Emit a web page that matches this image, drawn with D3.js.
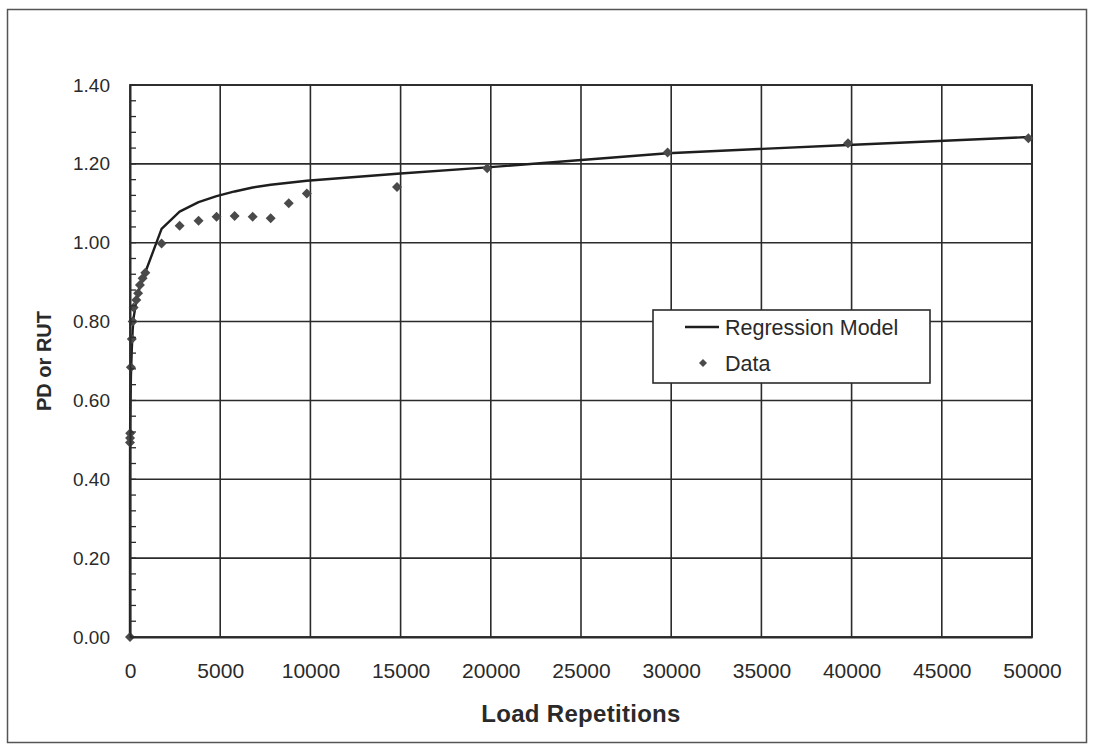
<!DOCTYPE html>
<html>
<head>
<meta charset="utf-8">
<script src="https://cdn.jsdelivr.net/npm/d3@7"></script>
<style>
  html, body { margin: 0; padding: 0; background: #fff; }
  svg { display: block; }
  text { font-family: "Liberation Sans", Arial, sans-serif; fill: #2a2a2a; }
</style>
</head>
<body>
<svg id="chart" width="1095" height="745"></svg>
<script>
// Measured points (load repetitions vs PD or RUT)
var dataX = [0, 1, 5, 10, 50, 100, 150, 200, 350, 450, 550, 700, 850, 1750, 2750, 3800, 4800, 5800, 6800, 7800, 8800, 9800, 14800, 19800, 29800, 39800, 49800];
var dataY = [0.00, 0.493, 0.505, 0.517, 0.684, 0.756, 0.800, 0.836, 0.855, 0.872, 0.893, 0.910, 0.924, 0.998, 1.043, 1.056, 1.066, 1.068, 1.066, 1.062, 1.100, 1.125, 1.141, 1.189, 1.229, 1.252, 1.265];

// Regression model at the same repetitions
var modelX = [0, 1, 5, 10, 50, 100, 150, 200, 350, 450, 550, 700, 850, 1750, 2750, 3800, 4800, 5800, 6800, 7800, 8800, 9800, 14800, 19800, 29800, 39800, 49800];
var modelY = [0.00, 0.40, 0.49, 0.54, 0.66, 0.73, 0.78, 0.81, 0.85, 0.87, 0.89, 0.91, 0.925, 1.035, 1.079, 1.103, 1.118, 1.130, 1.140, 1.147, 1.152, 1.157, 1.175, 1.191, 1.227, 1.248, 1.268];

var xTicks = [0, 5000, 10000, 15000, 20000, 25000, 30000, 35000, 40000, 45000, 50000];
var yTicks = [0, 0.2, 0.4, 0.6, 0.8, 1.0, 1.2, 1.4];
var yMinorTicks = d3.range(0, 36).map(function(i) { return i * 0.04; });

var legendItems = ['Regression Model', 'Data'];

var margins = { left: 130, right: 63, top: 85, bottom: 108 };
var width = 1095, height = 745;
var ink = '#2b2b2b';

var svg = d3.select('#chart');

// outer chart frame
svg.append('rect')
  .attr('x', 7.5).attr('y', 9.5)
  .attr('width', 1079).attr('height', 733)
  .attr('fill', 'none')
  .attr('stroke', '#555')
  .attr('stroke-width', 1.5);

var xScale = d3.scaleLinear().domain([0, 50000]).range([margins.left, width - margins.right]);
var yScale = d3.scaleLinear().domain([0, 1.4]).range([height - margins.bottom, margins.top]);

var plot = svg.append('g').attr('class', 'plot');

// grid
plot.append('g')
  .selectAll('line.vgrid')
  .data(xTicks.slice(1))
  .enter().append('line')
  .attr('class', 'vgrid')
  .attr('x1', function(d) { return xScale(d); })
  .attr('x2', function(d) { return xScale(d); })
  .attr('y1', yScale(0))
  .attr('y2', yScale(1.4))
  .attr('stroke', ink)
  .attr('stroke-width', 1.6);

plot.append('g')
  .selectAll('line.hgrid')
  .data(yTicks.slice(1))
  .enter().append('line')
  .attr('class', 'hgrid')
  .attr('x1', xScale(0))
  .attr('x2', xScale(50000))
  .attr('y1', function(d) { return yScale(d); })
  .attr('y2', function(d) { return yScale(d); })
  .attr('stroke', ink)
  .attr('stroke-width', 1.6);

// x axis (labels only, axis line along bottom)
var xAxis = d3.axisBottom(xScale)
  .tickValues(xTicks)
  .tickSize(0)
  .tickPadding(26)
  .tickFormat(d3.format('d'));

var gx = svg.append('g')
  .attr('transform', 'translate(0,' + yScale(0) + ')')
  .call(xAxis);
gx.select('.domain').attr('stroke', ink).attr('stroke-width', 2);
gx.selectAll('text')
  .style('font-family', '"Liberation Sans", Arial, sans-serif')
  .style('font-size', '21px')
  .attr('fill', ink);

// y axis with minor ticks pointing into the plot
var yAxis = d3.axisLeft(yScale)
  .tickValues(yTicks)
  .tickSize(0)
  .tickPadding(20)
  .tickFormat(d3.format('.2f'));

var gy = svg.append('g')
  .attr('transform', 'translate(' + xScale(0) + ',0)')
  .call(yAxis);
gy.select('.domain').attr('stroke', ink).attr('stroke-width', 2);
gy.selectAll('text')
  .style('font-family', '"Liberation Sans", Arial, sans-serif')
  .style('font-size', '19px')
  .attr('fill', ink);

gy.selectAll('line.minor')
  .data(yMinorTicks)
  .enter().append('line')
  .attr('class', 'minor')
  .attr('x1', 0).attr('x2', 6)
  .attr('y1', function(d) { return yScale(d); })
  .attr('y2', function(d) { return yScale(d); })
  .attr('stroke', ink)
  .attr('stroke-width', 1.3);

// top and right border of plot
plot.append('rect')
  .attr('x', xScale(0)).attr('y', yScale(1.4))
  .attr('width', xScale(50000) - xScale(0))
  .attr('height', yScale(0) - yScale(1.4))
  .attr('fill', 'none')
  .attr('stroke', ink)
  .attr('stroke-width', 1.8);

// regression model line
var line = d3.line()
  .x(function(d) { return xScale(d[0]); })
  .y(function(d) { return yScale(d[1]); });

plot.append('path')
  .datum(d3.zip(modelX, modelY))
  .attr('d', line)
  .attr('fill', 'none')
  .attr('stroke', '#1e1e1e')
  .attr('stroke-width', 2.4)
  .attr('stroke-linejoin', 'round');

// data markers: squares turned 45 degrees
var diamond = d3.symbol().type(d3.symbolSquare).size(50);
plot.selectAll('path.pt')
  .data(d3.zip(dataX, dataY))
  .enter().append('path')
  .attr('class', 'pt')
  .attr('d', diamond)
  .attr('transform', function(d) { return 'translate(' + xScale(d[0]) + ',' + yScale(d[1]) + ') rotate(45)'; })
  .attr('fill', '#4a4a4a');

// axis titles
svg.append('text')
  .attr('x', (xScale(0) + xScale(50000)) / 2)
  .attr('y', 722)
  .attr('text-anchor', 'middle')
  .style('font-size', '24px')
  .style('font-weight', 'bold')
  .style('letter-spacing', '0.3px')
  .text('Load Repetitions');

svg.append('text')
  .attr('transform', 'translate(51,' + ((yScale(0) + yScale(1.4)) / 2) + ') rotate(-90)')
  .attr('text-anchor', 'middle')
  .style('font-size', '20px')
  .style('font-weight', 'bold')
  .text('PD or RUT');

// legend
var legend = svg.append('g').attr('transform', 'translate(653,310)');
legend.append('rect')
  .attr('width', 277).attr('height', 73)
  .attr('fill', '#fff')
  .attr('stroke', ink)
  .attr('stroke-width', 1.6);

legend.append('line')
  .attr('x1', 32).attr('x2', 66)
  .attr('y1', 17).attr('y2', 17)
  .attr('stroke', '#1e1e1e')
  .attr('stroke-width', 2.4);

legend.append('path')
  .attr('d', d3.symbol().type(d3.symbolSquare).size(32))
  .attr('transform', 'translate(50,53) rotate(45)')
  .attr('fill', '#4a4a4a');

legend.selectAll('text.lbl')
  .data(legendItems)
  .enter().append('text')
  .attr('class', 'lbl')
  .attr('x', 72)
  .attr('y', function(d, i) { return 25 + i * 36; })
  .style('font-size', '21.5px')
  .text(function(d) { return d; });
</script>
</body>
</html>
